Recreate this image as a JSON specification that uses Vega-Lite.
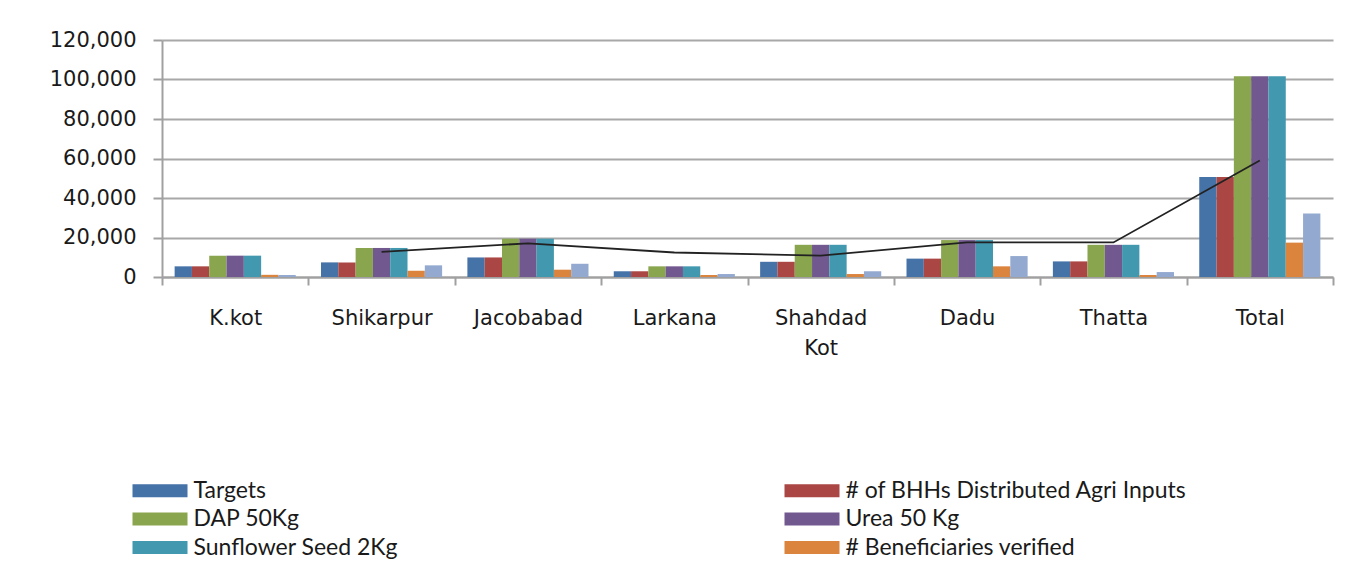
{
  "$schema": "https://vega.github.io/schema/vega-lite/v6.json",
  "width": 1171,
  "height": 237,
  "autosize": "none",
  "padding": {"left": 162, "top": 40, "right": 18, "bottom": 296},
  "background": "white",
  "datasets": {
    "bars": [
      {"district": "K.kot", "series": "Targets", "value": 5400},
      {"district": "K.kot", "series": "# of BHHs Distributed Agri Inputs", "value": 5400},
      {"district": "K.kot", "series": "DAP 50Kg", "value": 10800},
      {"district": "K.kot", "series": "Urea 50 Kg", "value": 10800},
      {"district": "K.kot", "series": "Sunflower Seed 2Kg", "value": 10800},
      {"district": "K.kot", "series": "# Beneficiaries verified", "value": 1100},
      {"district": "K.kot", "series": "Series 7", "value": 1000},
      {"district": "Shikarpur", "series": "Targets", "value": 7400},
      {"district": "Shikarpur", "series": "# of BHHs Distributed Agri Inputs", "value": 7400},
      {"district": "Shikarpur", "series": "DAP 50Kg", "value": 14700},
      {"district": "Shikarpur", "series": "Urea 50 Kg", "value": 14700},
      {"district": "Shikarpur", "series": "Sunflower Seed 2Kg", "value": 14700},
      {"district": "Shikarpur", "series": "# Beneficiaries verified", "value": 3200},
      {"district": "Shikarpur", "series": "Series 7", "value": 5900},
      {"district": "Jacobabad", "series": "Targets", "value": 9900},
      {"district": "Jacobabad", "series": "# of BHHs Distributed Agri Inputs", "value": 9900},
      {"district": "Jacobabad", "series": "DAP 50Kg", "value": 19400},
      {"district": "Jacobabad", "series": "Urea 50 Kg", "value": 19400},
      {"district": "Jacobabad", "series": "Sunflower Seed 2Kg", "value": 19400},
      {"district": "Jacobabad", "series": "# Beneficiaries verified", "value": 3700},
      {"district": "Jacobabad", "series": "Series 7", "value": 6700},
      {"district": "Larkana", "series": "Targets", "value": 2900},
      {"district": "Larkana", "series": "# of BHHs Distributed Agri Inputs", "value": 2900},
      {"district": "Larkana", "series": "DAP 50Kg", "value": 5400},
      {"district": "Larkana", "series": "Urea 50 Kg", "value": 5400},
      {"district": "Larkana", "series": "Sunflower Seed 2Kg", "value": 5400},
      {"district": "Larkana", "series": "# Beneficiaries verified", "value": 1000},
      {"district": "Larkana", "series": "Series 7", "value": 1500},
      {"district": "Shahdad Kot", "series": "Targets", "value": 7700},
      {"district": "Shahdad Kot", "series": "# of BHHs Distributed Agri Inputs", "value": 7700},
      {"district": "Shahdad Kot", "series": "DAP 50Kg", "value": 16300},
      {"district": "Shahdad Kot", "series": "Urea 50 Kg", "value": 16300},
      {"district": "Shahdad Kot", "series": "Sunflower Seed 2Kg", "value": 16300},
      {"district": "Shahdad Kot", "series": "# Beneficiaries verified", "value": 1500},
      {"district": "Shahdad Kot", "series": "Series 7", "value": 2900},
      {"district": "Dadu", "series": "Targets", "value": 9300},
      {"district": "Dadu", "series": "# of BHHs Distributed Agri Inputs", "value": 9300},
      {"district": "Dadu", "series": "DAP 50Kg", "value": 18700},
      {"district": "Dadu", "series": "Urea 50 Kg", "value": 18700},
      {"district": "Dadu", "series": "Sunflower Seed 2Kg", "value": 18700},
      {"district": "Dadu", "series": "# Beneficiaries verified", "value": 5400},
      {"district": "Dadu", "series": "Series 7", "value": 10600},
      {"district": "Thatta", "series": "Targets", "value": 7900},
      {"district": "Thatta", "series": "# of BHHs Distributed Agri Inputs", "value": 7900},
      {"district": "Thatta", "series": "DAP 50Kg", "value": 16300},
      {"district": "Thatta", "series": "Urea 50 Kg", "value": 16300},
      {"district": "Thatta", "series": "Sunflower Seed 2Kg", "value": 16300},
      {"district": "Thatta", "series": "# Beneficiaries verified", "value": 1000},
      {"district": "Thatta", "series": "Series 7", "value": 2500},
      {"district": "Total", "series": "Targets", "value": 50600},
      {"district": "Total", "series": "# of BHHs Distributed Agri Inputs", "value": 50600},
      {"district": "Total", "series": "DAP 50Kg", "value": 101700},
      {"district": "Total", "series": "Urea 50 Kg", "value": 101700},
      {"district": "Total", "series": "Sunflower Seed 2Kg", "value": 101700},
      {"district": "Total", "series": "# Beneficiaries verified", "value": 17400},
      {"district": "Total", "series": "Series 7", "value": 32200}
    ],
    "trend": [
      {"district": "Shikarpur", "value": 12750},
      {"district": "Jacobabad", "value": 17050},
      {"district": "Larkana", "value": 12400},
      {"district": "Shahdad Kot", "value": 10850},
      {"district": "Dadu", "value": 17500},
      {"district": "Thatta", "value": 17500},
      {"district": "Total", "value": 59000}
    ]
  },
  "config": {
    "view": {"stroke": null},
    "axis": {
      "labelFont": "DejaVu Sans",
      "labelFontSize": 21,
      "labelColor": "#1a1a1a",
      "domainColor": "#a0a0a0",
      "domainWidth": 2,
      "tickColor": "#a0a0a0",
      "tickWidth": 2,
      "gridColor": "#a8a8a8",
      "gridWidth": 2,
      "title": null
    }
  },
  "encoding": {
    "x": {
      "field": "district",
      "type": "nominal",
      "sort": ["K.kot", "Shikarpur", "Jacobabad", "Larkana", "Shahdad Kot", "Dadu", "Thatta", "Total"],
      "scale": {"domain": ["K.kot", "Shikarpur", "Jacobabad", "Larkana", "Shahdad Kot", "Dadu", "Thatta", "Total"], "paddingInner": 0, "paddingOuter": 0},
      "axis": {
        "labelAngle": 0,
        "tickBand": "extent",
        "tickSize": 8,
        "labelPadding": 22,
        "labelLineHeight": 30,
        "labelExpr": "datum.label == 'Shahdad Kot' ? ['Shahdad', 'Kot'] : datum.label"
      }
    },
    "y": {
      "field": "value",
      "type": "quantitative",
      "scale": {"domain": [0, 120000]},
      "axis": {
        "values": [0, 20000, 40000, 60000, 80000, 100000, 120000],
        "format": ",d",
        "tickSize": 9,
        "labelPadding": 17,
        "labelOverlap": false
      }
    }
  },
  "layer": [
    {
      "data": {"name": "bars"},
      "mark": {"type": "bar", "stroke": null},
      "encoding": {
        "xOffset": {
          "field": "series",
          "type": "nominal",
          "sort": ["Targets", "# of BHHs Distributed Agri Inputs", "DAP 50Kg", "Urea 50 Kg", "Sunflower Seed 2Kg", "# Beneficiaries verified", "Series 7"],
          "scale": {"paddingInner": 0, "paddingOuter": 0.73}
        },
        "color": {
          "field": "series",
          "type": "nominal",
          "sort": ["Targets", "# of BHHs Distributed Agri Inputs", "DAP 50Kg", "Urea 50 Kg", "Sunflower Seed 2Kg", "# Beneficiaries verified", "Series 7"],
          "scale": {
            "domain": ["Targets", "# of BHHs Distributed Agri Inputs", "DAP 50Kg", "Urea 50 Kg", "Sunflower Seed 2Kg", "# Beneficiaries verified", "Series 7"],
            "range": ["#4572A7", "#AA4643", "#89A54E", "#71588F", "#4198AF", "#DB843D", "#93A9CF"]
          },
          "legend": {
            "title": null,
            "orient": "none",
            "direction": "horizontal",
            "legendX": -13.5,
            "legendY": 439,
            "columns": 2,
            "columnPadding": 386,
            "rowPadding": 4.5,
            "values": ["Targets", "# of BHHs Distributed Agri Inputs", "DAP 50Kg", "Urea 50 Kg", "Sunflower Seed 2Kg", "# Beneficiaries verified"],
            "symbolType": "M-2.75,-0.65H2.75V0.65H-2.75Z",
            "symbolSize": 400,
            "symbolStrokeWidth": 0,
            "symbolOpacity": 1,
            "labelFont": "Lato",
            "labelFontSize": 23,
            "labelColor": "#1a1a1a",
            "labelOffset": 22,
            "labelLimit": 500
          }
        }
      }
    },
    {
      "data": {"name": "trend"},
      "mark": {"type": "line", "color": "#222222", "strokeWidth": 1.8}
    }
  ]
}
